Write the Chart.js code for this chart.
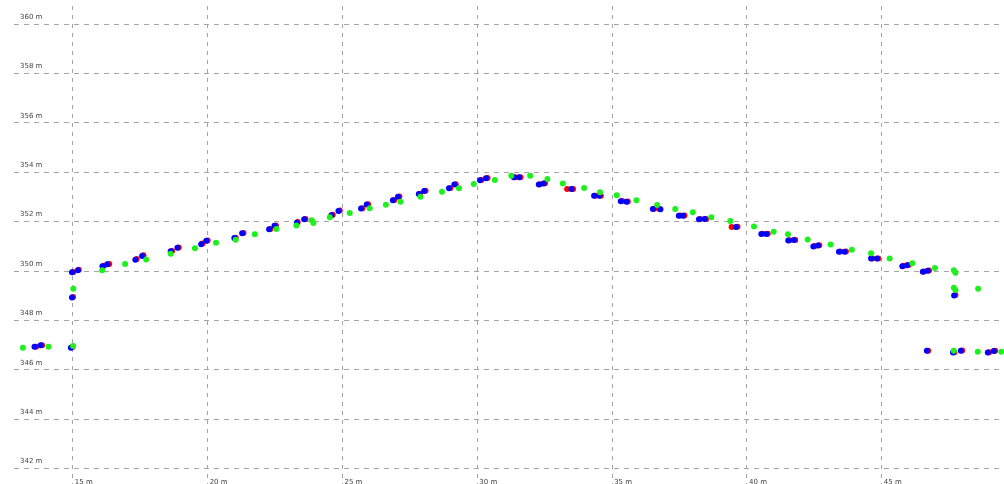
<!DOCTYPE html>
<html>
<head>
<meta charset="utf-8">
<script src="https://cdn.jsdelivr.net/npm/chart.js@4/dist/chart.umd.min.js"></script>
<style>
    html, body { margin: 0; padding: 0; background: #ffffff; }
    #wrap { width: 1004px; height: 484px; }
</style>
</head>
<body>
<div id="wrap"><canvas id="profile-chart" width="1004" height="484"></canvas></div>
<script>
// distance (m) / height (m) for each track
const blueX = [13.58, 13.81, 14.93, 14.97, 14.97, 15.19, 16.10, 16.28, 17.32, 17.57, 18.63, 18.88, 19.76, 19.95, 20.99, 21.28, 22.28, 22.48, 23.31, 23.58, 24.59, 24.85, 25.69, 25.90, 26.87, 27.06, 27.83, 28.03, 28.95, 29.15, 30.10, 30.32, 31.35, 31.55, 32.28, 32.46, 33.49, 34.33, 34.53, 35.32, 35.53, 36.51, 36.79, 37.47, 37.63, 38.22, 38.43, 39.59, 40.53, 40.72, 41.53, 41.74, 42.46, 42.63, 43.41, 43.62, 44.60, 44.82, 45.76, 45.94, 46.52, 46.70, 47.68, 46.67, 47.64, 47.93, 48.93, 49.15];
const blueY = [346.93, 346.99, 346.89, 348.93, 349.95, 350.03, 350.19, 350.27, 350.46, 350.61, 350.80, 350.94, 351.09, 351.23, 351.34, 351.53, 351.69, 351.84, 351.96, 352.10, 352.26, 352.43, 352.53, 352.70, 352.87, 353.01, 353.12, 353.24, 353.35, 353.51, 353.68, 353.76, 353.80, 353.80, 353.51, 353.55, 353.32, 353.05, 353.05, 352.83, 352.81, 352.51, 352.50, 352.24, 352.24, 352.10, 352.11, 351.78, 351.50, 351.50, 351.24, 351.26, 350.99, 351.03, 350.78, 350.78, 350.51, 350.51, 350.19, 350.23, 349.97, 350.01, 349.01, 346.77, 346.70, 346.77, 346.70, 346.76];

const redX = [13.64, 13.86, 14.99, 15.01, 15.02, 15.22, 16.15, 16.35, 17.37, 17.62, 18.68, 18.93, 19.81, 20.00, 21.04, 21.33, 22.33, 22.53, 23.34, 23.63, 24.64, 24.90, 25.74, 25.95, 26.92, 27.11, 27.88, 28.08, 29.00, 29.20, 30.15, 30.38, 31.40, 31.60, 32.33, 32.51, 33.33, 33.55, 34.38, 34.58, 35.37, 35.58, 36.56, 36.74, 37.52, 37.68, 38.27, 38.48, 39.43, 39.65, 40.58, 40.77, 41.58, 41.79, 42.51, 42.68, 43.46, 43.67, 44.65, 44.87, 45.81, 45.99, 46.57, 46.75, 47.73, 46.72, 47.69, 47.98, 48.98, 49.20];
const redY = [346.93, 346.99, 346.92, 348.95, 349.96, 350.05, 350.21, 350.28, 350.49, 350.64, 350.81, 350.95, 351.12, 351.24, 351.35, 351.54, 351.70, 351.85, 351.99, 352.11, 352.28, 352.45, 352.54, 352.71, 352.88, 353.02, 353.13, 353.25, 353.36, 353.52, 353.69, 353.77, 353.80, 353.80, 353.52, 353.56, 353.32, 353.32, 353.05, 353.05, 352.84, 352.82, 352.52, 352.52, 352.25, 352.25, 352.11, 352.11, 351.78, 351.79, 351.51, 351.51, 351.25, 351.26, 351.01, 351.04, 350.79, 350.79, 350.51, 350.51, 350.21, 350.24, 349.98, 350.02, 349.03, 346.77, 346.71, 346.78, 346.71, 346.77];

const greenX = [13.15, 14.10, 15.01, 15.02, 16.09, 16.94, 17.72, 18.63, 19.53, 20.31, 21.04, 21.75, 22.55, 23.29, 23.86, 23.92, 24.53, 25.27, 26.01, 26.61, 27.15, 27.89, 28.69, 29.32, 29.87, 30.65, 31.26, 31.96, 32.60, 33.17, 33.96, 34.55, 35.17, 35.90, 36.67, 37.34, 37.99, 38.68, 39.38, 40.26, 40.99, 41.52, 42.25, 43.10, 43.89, 44.60, 45.29, 46.13, 46.97, 47.67, 47.73, 47.67, 47.73, 48.57, 47.67, 48.56, 49.43];
const greenY = [346.89, 346.93, 346.96, 349.28, 350.03, 350.28, 350.47, 350.70, 350.92, 351.15, 351.27, 351.49, 351.70, 351.85, 352.06, 351.95, 352.18, 352.35, 352.54, 352.69, 352.81, 353.01, 353.21, 353.35, 353.53, 353.69, 353.86, 353.86, 353.73, 353.55, 353.36, 353.19, 353.07, 352.87, 352.68, 352.51, 352.38, 352.18, 352.03, 351.80, 351.59, 351.49, 351.28, 351.08, 350.86, 350.72, 350.51, 350.32, 350.12, 350.03, 349.93, 349.32, 349.23, 349.28, 346.77, 346.73, 346.73];

const xTicks = [15, 20, 25, 30, 35, 40, 45];
const yTicks = [342, 344, 346, 348, 350, 352, 354, 356, 358, 360];

function toPoints(xs, ys) {
    return xs.map((x, i) => ({ x: x, y: ys[i] }));
}

const tickFont = { family: 'DejaVu Sans', size: 7, lineHeight: 0.6 };
const gridColor = '#a4a4a4';

new Chart(document.getElementById('profile-chart'), {
    type: 'scatter',
    data: {
        datasets: [
            { label: 'green', data: toPoints(greenX, greenY), backgroundColor: '#1ef01e', order: 0 },
            { label: 'blue', data: toPoints(blueX, blueY), backgroundColor: '#0000ff', order: 1 },
            { label: 'red', data: toPoints(redX, redY), backgroundColor: '#ff0000', order: 2 }
        ]
    },
    options: {
        responsive: false,
        animation: false,
        layout: { autoPadding: false, padding: { left: 14, top: 6, right: 0, bottom: 0 } },
        elements: { point: { radius: 3, borderWidth: 0, hoverRadius: 3 } },
        plugins: {
            legend: { display: false },
            tooltip: { enabled: false }
        },
        scales: {
            x: {
                type: 'linear',
                min: 12.82,
                max: 49.53,
                afterBuildTicks: (scale) => { scale.ticks = xTicks.map(v => ({ value: v })); },
                afterFit: (scale) => {
                    scale.height = 0;
                    scale.paddingLeft = 0; scale.paddingRight = 0;
                    scale.paddingTop = 0; scale.paddingBottom = 0;
                },
                grid: { color: gridColor, drawTicks: false, lineWidth: 1 },
                border: { display: false, dash: [4, 5] },
                ticks: {
                    mirror: true,
                    padding: 0,
                    align: 'start',
                    labelOffset: 2,
                    maxRotation: 0,
                    autoSkip: false,
                    color: '#444',
                    font: tickFont,
                    callback: (v) => v + ' m'
                }
            },
            y: {
                min: 341.37,
                max: 360.74,
                afterBuildTicks: (scale) => { scale.ticks = yTicks.map(v => ({ value: v })); },
                afterFit: (scale) => {
                    scale.width = 0;
                    scale.paddingLeft = 0; scale.paddingRight = 0;
                    scale.paddingTop = 0; scale.paddingBottom = 0;
                },
                grid: { color: gridColor, drawTicks: false, lineWidth: 1 },
                border: { display: false, dash: [5, 5] },
                ticks: {
                    mirror: true,
                    padding: 6,
                    labelOffset: -7,
                    autoSkip: false,
                    color: '#444',
                    font: tickFont,
                    callback: (v) => v + ' m'
                }
            }
        }
    }
});
</script>
</body>
</html>
